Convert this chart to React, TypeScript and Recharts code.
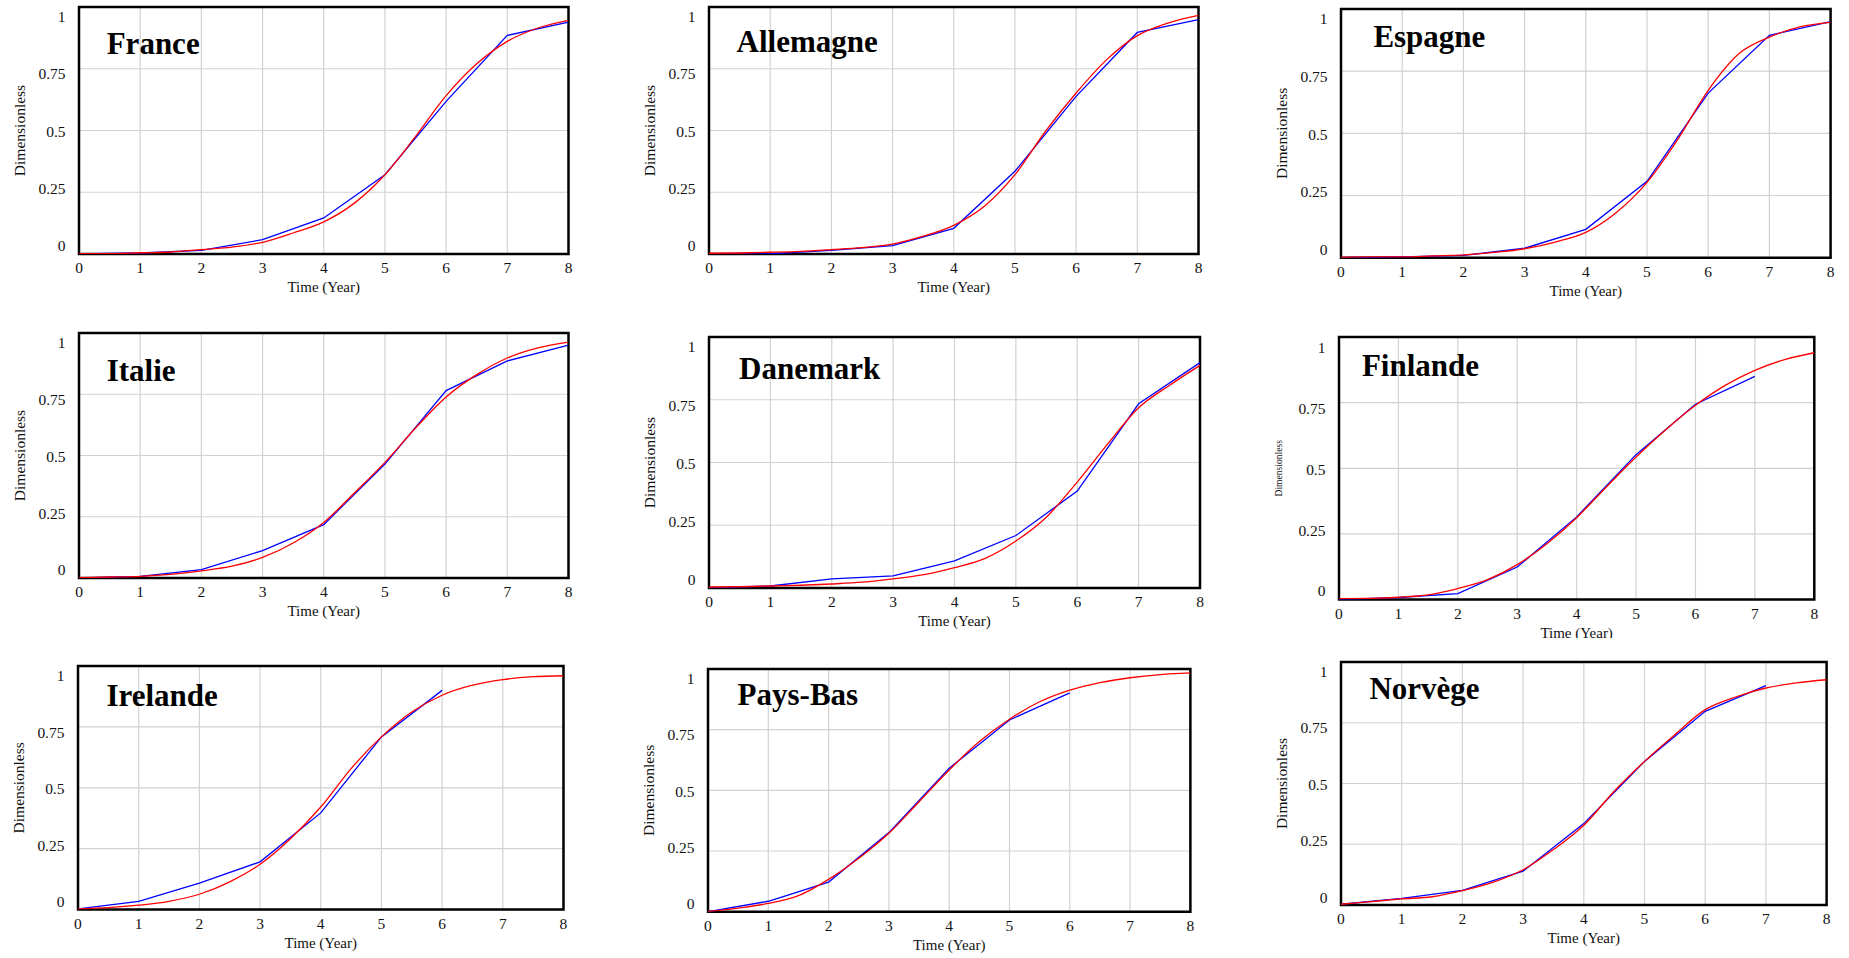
import React from 'react';
import { LineChart, Line, XAxis, YAxis, CartesianGrid, ReferenceArea } from 'recharts';

const obsYears = [0, 1, 2, 3, 4, 5, 6, 7, 8];
const simYears = [0, 0.5, 1, 1.5, 2, 2.5, 3, 3.5, 4, 4.5, 5, 5.5, 6, 6.5, 7, 7.5, 8];
const xTicks = [0, 1, 2, 3, 4, 5, 6, 7, 8];
const yTicks = [0, 0.25, 0.5, 0.75, 1];

const franceObs = [0, 0.004, 0.015, 0.058, 0.146, 0.321, 0.618, 0.885, 0.939];
const franceSim = [0.001, 0.001, 0.005, 0.008, 0.018, 0.028, 0.047, 0.085, 0.13, 0.206, 0.321, 0.476, 0.641, 0.77, 0.861, 0.915, 0.946];

const allemagneObs = [0, 0.001, 0.015, 0.034, 0.104, 0.335, 0.638, 0.897, 0.949];
const allemagneSim = [0.003, 0.004, 0.007, 0.011, 0.018, 0.026, 0.04, 0.072, 0.116, 0.193, 0.321, 0.497, 0.652, 0.787, 0.884, 0.935, 0.966];

const espagneObs = [0, 0.003, 0.009, 0.038, 0.114, 0.307, 0.662, 0.894, 0.949];
const espagneSim = [0.001, 0.003, 0.003, 0.007, 0.011, 0.021, 0.036, 0.063, 0.102, 0.182, 0.303, 0.475, 0.673, 0.82, 0.887, 0.928, 0.946];

const italieObs = [0, 0.007, 0.034, 0.112, 0.218, 0.465, 0.765, 0.886, 0.951];
const italieSim = [0.001, 0.004, 0.007, 0.015, 0.029, 0.048, 0.084, 0.143, 0.227, 0.347, 0.472, 0.612, 0.739, 0.83, 0.898, 0.939, 0.963];

const danemarkObs = [0, 0.008, 0.036, 0.048, 0.108, 0.209, 0.386, 0.734, 0.898];
const danemarkSim = [0.004, 0.005, 0.008, 0.011, 0.016, 0.023, 0.036, 0.053, 0.081, 0.118, 0.187, 0.283, 0.422, 0.575, 0.718, 0.807, 0.887];

const finlandeObs = [0, 0.008, 0.023, 0.124, 0.315, 0.552, 0.744, 0.85];
const finlandeSim = [0.004, 0.005, 0.009, 0.018, 0.042, 0.076, 0.133, 0.213, 0.312, 0.429, 0.543, 0.647, 0.74, 0.816, 0.873, 0.914, 0.94];

const irelandeObs = [0.003, 0.034, 0.109, 0.196, 0.397, 0.709, 0.9];
const irelandeSim = [0.003, 0.008, 0.018, 0.034, 0.063, 0.114, 0.186, 0.291, 0.421, 0.579, 0.709, 0.811, 0.88, 0.921, 0.944, 0.956, 0.96];

const paysBasObs = [0, 0.043, 0.122, 0.326, 0.591, 0.79, 0.902];
const paysBasSim = [0.001, 0.015, 0.034, 0.066, 0.133, 0.22, 0.323, 0.453, 0.584, 0.701, 0.793, 0.865, 0.913, 0.944, 0.964, 0.977, 0.984];

const norvegeObs = [0.003, 0.027, 0.06, 0.139, 0.335, 0.591, 0.797, 0.903];
const norvegeSim = [0.003, 0.014, 0.025, 0.034, 0.059, 0.093, 0.145, 0.228, 0.328, 0.468, 0.591, 0.701, 0.804, 0.856, 0.893, 0.914, 0.927];

const xLabel = 'Time (Year)';
const yLabel = 'Dimensionless';

const FONT = '"Liberation Serif", "Times New Roman", serif';
const ML = 75;
const MR = 12;
const MT = 10;
const MB = 45;

type Panel = {
  name: string;
  obs: number[];
  sim: number[];
  left: number;
  top: number;
  w: number;
  h: number;
  tdx: number;
  tdy: number;
  ySize?: number;
  clip?: number;
};

const panels: Panel[] = [
  { name: 'France', obs: franceObs, sim: franceSim, left: 79.1, top: 7.3, w: 489.5, h: 247, tdx: 27.7, tdy: 46.7 },
  { name: 'Allemagne', obs: allemagneObs, sim: allemagneSim, left: 709.4, top: 7.3, w: 489.5, h: 247, tdx: 27.6, tdy: 45 },
  { name: 'Espagne', obs: espagneObs, sim: espagneSim, left: 1341.3, top: 9.3, w: 489.6, h: 248.7, tdx: 32.4, tdy: 38 },
  { name: 'Italie', obs: italieObs, sim: italieSim, left: 79.1, top: 333.3, w: 489.5, h: 245, tdx: 27.7, tdy: 47.7 },
  { name: 'Danemark', obs: danemarkObs, sim: danemarkSim, left: 709.4, top: 336.7, w: 491, h: 251, tdx: 30, tdy: 42.3 },
  { name: 'Finlande', obs: finlandeObs, sim: finlandeSim, left: 1339, top: 336.7, w: 475.3, h: 262.6, tdx: 22.9, tdy: 39.3, ySize: 9.6, clip: 638 },
  { name: 'Irelande', obs: irelandeObs, sim: irelandeSim, left: 78.3, top: 665.7, w: 485.5, h: 243.6, tdx: 28.5, tdy: 40 },
  { name: 'Pays-Bas', obs: paysBasObs, sim: paysBasSim, left: 708.2, top: 669, w: 482.4, h: 242.7, tdx: 29.6, tdy: 36.3 },
  { name: 'Norvège', obs: norvegeObs, sim: norvegeSim, left: 1340.9, top: 662.3, w: 485.6, h: 243, tdx: 28.5, tdy: 37 },
];

const makeYTick = (h: number) => (props: any) => {
  const { x, y, payload } = props;
  const v = Number(payload.value);
  const off = (v - 0.5) * 0.072 * h + 1;
  return (
    <text
      x={Number(x) - 13.5}
      y={Number(y) + off + 5.3}
      textAnchor="end"
      fontFamily={FONT}
      fontSize={15.5}
      fill="#111"
    >
      {String(v)}
    </text>
  );
};

const XTick = (props: any) => {
  const { x, y, payload } = props;
  return (
    <text
      x={Number(x)}
      y={Number(y) + 19.3}
      textAnchor="middle"
      fontFamily={FONT}
      fontSize={15.5}
      fill="#111"
    >
      {String(payload.value)}
    </text>
  );
};

function PanelChart({ p }: { p: Panel }) {
  const mb = p.clip ? p.clip - (p.top + p.h) : MB;
  const width = p.w + ML + MR;
  const height = p.h + MT + mb;
  const obsData = p.obs.map((v, i) => ({ t: obsYears[i], v }));
  const simData = p.sim.map((v, i) => ({ t: simYears[i], v }));
  const ylx = p.ySize ? ML - 60.8 + 3.3 : ML - 59.3 + 5.3;
  return (
    <div
      style={{
        position: 'absolute',
        left: p.left - ML,
        top: p.top - MT,
        width,
        height,
        overflow: 'hidden',
      }}
    >
      <LineChart width={width} height={height} margin={{ top: MT, right: MR, bottom: mb - 1, left: ML - 1 }}>
        <CartesianGrid stroke="#d2d2d2" strokeWidth={1.2} />
        <XAxis
          type="number"
          dataKey="t"
          domain={[0, 8]}
          ticks={xTicks}
          allowDataOverflow
          height={1}
          axisLine={false}
          tickLine={false}
          tickSize={0}
          tickMargin={0}
          tick={XTick}
          interval={0}
        />
        <YAxis
          type="number"
          domain={[0, 1]}
          ticks={yTicks}
          allowDataOverflow
          width={1}
          axisLine={false}
          tickLine={false}
          tickSize={0}
          tickMargin={0}
          tick={makeYTick(p.h)}
          interval={0}
        />
        <Line
          data={obsData}
          dataKey="v"
          type="linear"
          stroke="#0000ff"
          strokeWidth={1.3}
          dot={false}
          activeDot={false}
          isAnimationActive={false}
        />
        <Line
          data={simData}
          dataKey="v"
          type="monotone"
          stroke="#ff0000"
          strokeWidth={1.3}
          dot={false}
          activeDot={false}
          isAnimationActive={false}
        />
        <ReferenceArea
          x1={0}
          x2={8}
          y1={0}
          y2={1}
          fill="none"
          fillOpacity={0}
          stroke="#000"
          strokeWidth={2.5}
          ifOverflow="visible"
        />
        <text
          x={ML + p.tdx}
          y={MT + p.tdy}
          fontFamily={FONT}
          fontWeight="bold"
          fontSize={31}
          fill="#000"
        >
          {p.name}
        </text>
        <text
          transform={`translate(${ylx},${MT + p.h / 2}) rotate(-90)`}
          textAnchor="middle"
          fontFamily={FONT}
          fontSize={p.ySize ?? 15.5}
          fill="#111"
        >
          {yLabel}
        </text>
        <text
          x={ML + p.w / 2}
          y={MT + p.h + 38}
          textAnchor="middle"
          fontFamily={FONT}
          fontSize={15}
          fill="#111"
        >
          {xLabel}
        </text>
      </LineChart>
    </div>
  );
}

export default function App() {
  return (
    <div
      style={{
        position: 'absolute',
        left: 0,
        top: 0,
        width: 1849,
        height: 958,
        background: '#fff',
        overflow: 'hidden',
      }}
    >
      {panels.map((p) => (
        <PanelChart key={p.name} p={p} />
      ))}
    </div>
  );
}
